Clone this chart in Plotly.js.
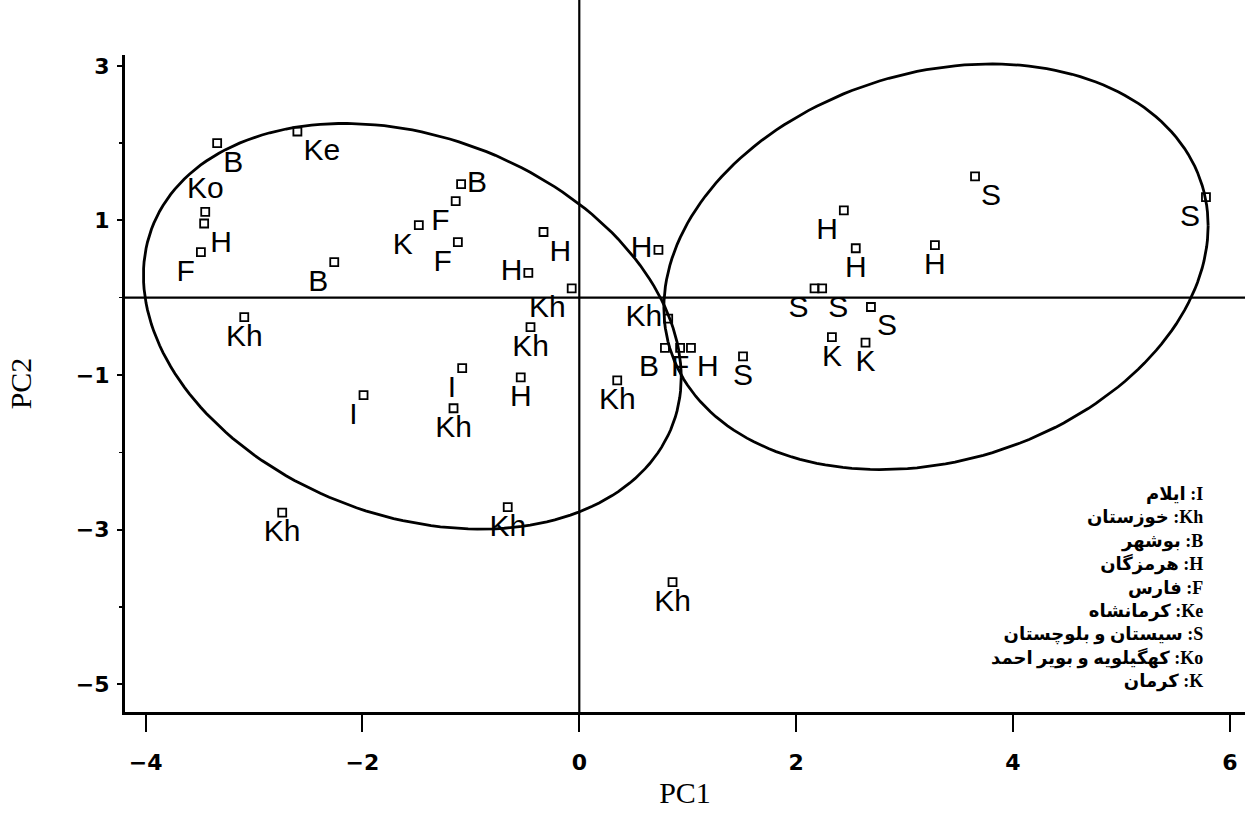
<!DOCTYPE html>
<html>
<head>
<meta charset="utf-8">
<script src="https://cdn.plot.ly/plotly-3.0.1.min.js"></script>
<style>
  html, body { margin: 0; padding: 0; background: white; }
  #graph-container { width: 1250px; height: 823px; }
</style>
</head>
<body>
<div id="graph-container"></div>
<script>
// Province code of each sample
const codes = ['B', 'Ke', 'Ko', 'H', 'F', 'B', 'Kh', 'K', 'F', 'B', 'F', 'H', 'H', 'Kh',
    'H', 'Kh', 'Kh', 'H', 'I', 'Kh', 'I', 'Kh', 'Kh', 'Kh', 'Kh', 'B', 'F', 'H', 'S',
    'H', 'H', 'H', 'S', 'S', 'S', 'K', 'K', 'S', 'S'];

// Principal component scores
const pc1 = [-3.34, -2.60, -3.45, -3.46, -3.49, -2.26, -3.09, -1.48, -1.14, -1.09, -1.12,
    -0.33, -0.47, -0.07, 0.73, 0.82, -0.45, -0.54, -1.08, -1.16, -1.99, -2.74, -0.66,
    0.35, 0.86, 0.79, 0.93, 1.03, 1.51, 2.44, 2.55, 3.28, 2.17, 2.24, 2.69, 2.33, 2.64,
    3.65, 5.78];
const pc2 = [2.00, 2.15, 1.11, 0.96, 0.59, 0.46, -0.25, 0.94, 1.25, 1.47, 0.72, 0.85,
    0.32, 0.12, 0.62, -0.27, -0.38, -1.03, -0.91, -1.43, -1.26, -2.78, -2.71, -1.07,
    -3.68, -0.65, -0.65, -0.65, -0.76, 1.13, 0.64, 0.68, 0.12, 0.12, -0.12, -0.51,
    -0.58, 1.57, 1.30];

// where each label sits around its marker
const labelPos = ['bottom right', 'bottom right', 'top center', 'bottom right', 'bottom left',
    'bottom left', 'bottom center', 'bottom left', 'bottom left', 'middle right',
    'bottom left', 'bottom right', 'middle left', 'bottom left', 'middle left',
    'middle left', 'bottom center', 'bottom center', 'bottom left', 'bottom center',
    'bottom left', 'bottom center', 'bottom center', 'bottom center', 'bottom center',
    'bottom left', 'bottom center', 'bottom right', 'bottom center', 'bottom left',
    'bottom center', 'bottom center', 'bottom left', 'bottom right', 'bottom right',
    'bottom center', 'bottom center', 'bottom right', 'bottom left'];

// Group ellipses: centre and two conjugate semi-diameters (PC units)
const leftEllipse = { cx: -1.54, cy: -0.37, ux: 2.48, uy: -0.66, vx: 0, vy: -2.54 };
const rightEllipse = { cx: 3.29, cy: 0.40, ux: 2.51, uy: 0.53, vx: 0, vy: 2.57 };

// Legend text: code and province name
const legendCodes = ['I', 'Kh', 'B', 'H', 'F', 'Ke', 'S', 'Ko', 'K'];
const legendNames = ['ایلام', 'خوزستان', 'بوشهر', 'هرمزگان', 'فارس', 'کرمانشاه',
    'سیستان و بلوچستان', 'کهگیلویه و بویر احمد', 'کرمان'];

const xTicks = [-4, -2, 0, 2, 4, 6];
const yTicks = [3, 1, -1, -3, -5];

function ellipseTrace(e) {
    const xs = [], ys = [];
    for (let i = 0; i <= 180; i++) {
        const t = i / 180 * 2 * Math.PI;
        xs.push(e.cx + e.ux * Math.cos(t) + e.vx * Math.sin(t));
        ys.push(e.cy + e.uy * Math.cos(t) + e.vy * Math.sin(t));
    }
    return {
        x: xs, y: ys, type: 'scatter', mode: 'lines',
        line: { color: 'black', width: 2.8 },
        hoverinfo: 'skip', showlegend: false
    };
}

const points = {
    x: pc1,
    y: pc2,
    text: codes,
    type: 'scatter',
    mode: 'markers+text',
    textposition: labelPos,
    textfont: { family: 'Liberation Sans, Arial, sans-serif', size: 30, color: 'black' },
    marker: {
        symbol: 'square-open',
        size: 8,
        color: 'black',
        line: { width: 1.8, color: 'black' }
    },
    cliponaxis: false,
    showlegend: false
};

const legendText = legendCodes
    .map((c, i) => `${legendNames[i]} :${c}`)
    .join('<br>');

const layout = {
    width: 1250,
    height: 823,
    margin: { l: 125, r: 5, t: 55, b: 111 },
    plot_bgcolor: 'white',
    paper_bgcolor: 'white',
    showlegend: false,
    xaxis: {
        range: [-4.19, 6.14],
        tickvals: xTicks,
        ticktext: xTicks.map(v => v < 0 ? '\u2212' + Math.abs(v) : String(v)),
        ticks: 'outside',
        ticklen: 17,
        tickwidth: 2,
        tickcolor: 'black',
        ticklabelstandoff: 12,
        tickfont: { family: 'DejaVu Sans, sans-serif', size: 22, weight: 'bold', color: 'black' },
        showline: true,
        linewidth: 3,
        linecolor: 'black',
        showgrid: false,
        zeroline: false,
        title: {
            text: 'PC1',
            font: { family: 'Liberation Serif, Times New Roman, serif', size: 30, color: 'black' },
            standoff: 8
        }
    },
    yaxis: {
        range: [-5.36, 3.14],
        tickvals: yTicks,
        ticktext: yTicks.map(v => v < 0 ? '\u2212' + Math.abs(v) : String(v)),
        ticks: 'outside',
        ticklen: 5,
        tickwidth: 2,
        tickcolor: 'black',
        ticklabelstandoff: 3,
        tickfont: { family: 'DejaVu Sans, sans-serif', size: 22, weight: 'bold', color: 'black' },
        minor: { dtick: 1, tick0: 0, ticks: 'outside', ticklen: 3, tickwidth: 1.5, tickcolor: 'black' },
        showline: true,
        linewidth: 3,
        linecolor: 'black',
        showgrid: false,
        zeroline: false,
        title: {
            text: 'PC2',
            font: { family: 'Liberation Serif, Times New Roman, serif', size: 30, color: 'black' },
            standoff: 36
        }
    },
    shapes: [
        {
            type: 'line', xref: 'paper', yref: 'y',
            x0: 0, x1: 1, y0: 0, y1: 0,
            line: { color: 'black', width: 2.2 }
        },
        {
            type: 'line', xref: 'x', yref: 'paper',
            x0: 0, x1: 0, y0: 0, y1: 1.084,
            line: { color: 'black', width: 2.2 }
        }
    ],
    annotations: [
        {
            xref: 'paper', yref: 'paper',
            x: 0.964, y: 0.35,
            xanchor: 'right', yanchor: 'top',
            align: 'right',
            showarrow: false,
            text: legendText,
            font: { family: 'Liberation Serif, DejaVu Sans, serif', size: 18, weight: 'bold', color: 'black' }
        }
    ]
};

const graphContainer = document.getElementById('graph-container');
Plotly.newPlot(graphContainer,
    [ellipseTrace(leftEllipse), ellipseTrace(rightEllipse), points],
    layout,
    { staticPlot: true });
</script>
</body>
</html>
